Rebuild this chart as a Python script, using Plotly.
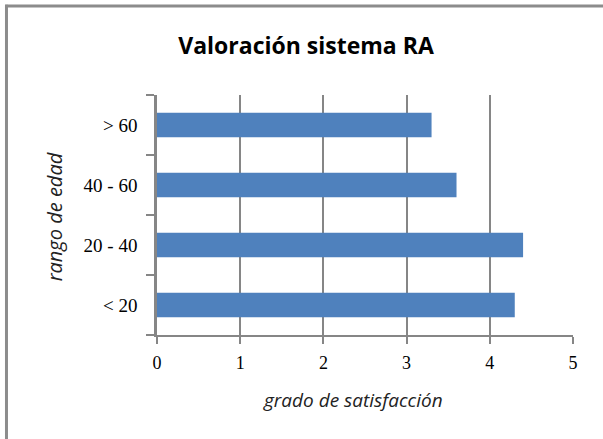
import plotly.graph_objects as go

categories = ["< 20", "20 - 40", "40 - 60", "> 60"]
values = [4.3, 4.4, 3.6, 3.3]
x_ticks = [0, 1, 2, 3, 4, 5]

title_text = "Valoración sistema RA"
x_title = "grado de satisfacción"
y_title = "rango de edad"

W, H = 603, 439
ML, MR, MT, MB = 157, 29.5, 94.5, 104
PW, PH = W - ML - MR, H - MT - MB

def px_to_paper_x(px):
    return (px - ML) / PW

def px_to_paper_y(py):
    return (H - MB - py) / PH

fig = go.Figure(go.Bar(
    y=categories, x=values, orientation="h",
    marker=dict(color="#4F81BD", line=dict(width=0)),
))

grid = "#868686"
fig.update_layout(
    width=W, height=H,
    margin=dict(l=ML, r=MR, t=MT, b=MB),
    paper_bgcolor="white", plot_bgcolor="white",
    bargap=0.59,
    showlegend=False,
    title=dict(text="<b>" + title_text + "</b>", x=(172 + 440) / 2 / W, xanchor="center",
               y=1 - 46 / H, yanchor="middle",
               font=dict(family="Open Sans", size=23, color="black")),
    xaxis=dict(range=[0, 5], tickvals=x_ticks, showgrid=True, gridcolor=grid, gridwidth=1.5,
               showline=True, linecolor=grid, linewidth=1.5, zeroline=False,
               ticks="outside", ticklen=7, tickcolor=grid, tickwidth=1.5,
               tickfont=dict(family="Liberation Serif", size=18, color="black"),
               ticklabelstandoff=4),
    yaxis=dict(type="category", showgrid=False, showline=True, linecolor=grid, linewidth=2.5,
               ticks="outside", tickson="boundaries", ticklen=8, tickcolor=grid, tickwidth=1.5,
               tickfont=dict(family="Liberation Serif", size=19, color="black"),
               ticklabelstandoff=13),
    annotations=[
        dict(text="<i>" + x_title + "</i>", xref="paper", yref="paper",
             x=px_to_paper_x(353), y=px_to_paper_y(400), xanchor="center", yanchor="middle",
             showarrow=False, font=dict(family="Open Sans", size=19, color="#222")),
        dict(text="<i>" + y_title + "</i>", xref="paper", yref="paper", textangle=-90,
             x=px_to_paper_x(54), y=px_to_paper_y(217), xanchor="center", yanchor="middle",
             showarrow=False, font=dict(family="Open Sans", size=20, color="#222")),
    ],
    shapes=[
        dict(type="line", xref="paper", yref="paper",
             x0=px_to_paper_x(6.3), x1=px_to_paper_x(6.3), y0=px_to_paper_y(4), y1=px_to_paper_y(445),
             line=dict(color="#8C8C8C", width=3)),
        dict(type="line", xref="paper", yref="paper",
             x0=px_to_paper_x(5), x1=px_to_paper_x(610), y0=px_to_paper_y(5.3), y1=px_to_paper_y(5.3),
             line=dict(color="#8C8C8C", width=3)),
    ],
)

fig.write_html("out.html", config={"displayModeBar": False})

with open("out.html", "r", encoding="utf-8") as f:
    html = f.read()
html = html.replace("<head>", "<head><style>html,body{margin:0;padding:0;overflow:hidden;}</style>", 1)
with open("out.html", "w", encoding="utf-8") as f:
    f.write(html)
